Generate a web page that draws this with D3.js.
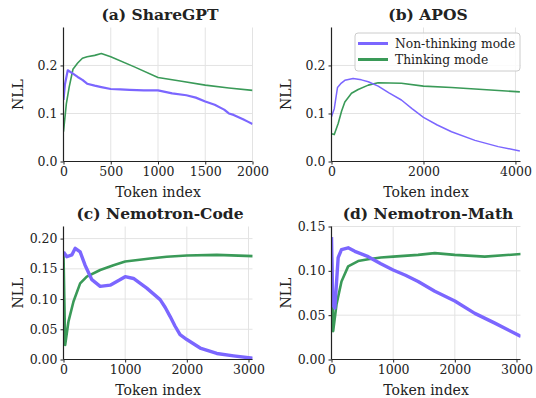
<!DOCTYPE html>
<html>
<head>
<meta charset="utf-8">
<script src="https://cdn.jsdelivr.net/npm/d3@7"></script>
<style>
  body { margin: 0; background: #fff; }
  text { font-family: "DejaVu Serif", serif; fill: #222; }
</style>
</head>
<body>
<svg width="536" height="398"></svg>
<script>
// values (token index / NLL)
const shareTok    = [0, 15, 45, 100, 150, 200, 250, 330, 400, 500, 600, 700, 850, 1000, 1150, 1300, 1400, 1500, 1600, 1700, 1750, 1800, 1900, 1950, 2000];
const shareNon    = [0.128, 0.16, 0.19, 0.183, 0.176, 0.17, 0.162, 0.158, 0.155, 0.151, 0.15, 0.149, 0.148, 0.148, 0.142, 0.138, 0.133, 0.125, 0.118, 0.108, 0.1, 0.097, 0.088, 0.083, 0.078];
const shareThTok  = [0, 30, 60, 100, 150, 200, 250, 330, 400, 500, 750, 1000, 1250, 1500, 1750, 2000];
const shareThink  = [0.062, 0.12, 0.155, 0.192, 0.205, 0.215, 0.218, 0.221, 0.225, 0.218, 0.197, 0.175, 0.167, 0.159, 0.153, 0.148];

const aposTok     = [0, 60, 130, 200, 290, 470, 650, 800, 1015, 1250, 1520, 1750, 2000, 2300, 2610, 3120, 3625, 4096];
const aposNon     = [0.093, 0.11, 0.154, 0.162, 0.169, 0.173, 0.17, 0.166, 0.157, 0.143, 0.128, 0.11, 0.092, 0.076, 0.062, 0.044, 0.031, 0.022];
const aposThTok   = [0, 60, 145, 220, 290, 435, 580, 800, 1015, 1520, 2000, 2610, 3120, 4096];
const aposThink   = [0.058, 0.056, 0.079, 0.105, 0.124, 0.142, 0.15, 0.159, 0.164, 0.163, 0.157, 0.154, 0.151, 0.145];

const codeTok     = [0, 54, 135, 190, 270, 350, 460, 595, 757, 900, 1000, 1135, 1350, 1567, 1650, 1730, 1810, 1890, 2000, 2216, 2486, 2757, 3072];
const codeNon     = [0.178, 0.17, 0.173, 0.184, 0.178, 0.156, 0.132, 0.121, 0.123, 0.131, 0.137, 0.134, 0.118, 0.099, 0.086, 0.071, 0.055, 0.041, 0.033, 0.019, 0.01, 0.006, 0.002];
const codeThTok   = [0, 27, 81, 162, 270, 378, 595, 811, 1000, 1405, 1675, 2000, 2486, 3072];
const codeThink   = [0.175, 0.024, 0.063, 0.096, 0.126, 0.137, 0.148, 0.156, 0.162, 0.167, 0.17, 0.172, 0.173, 0.171];

const mathTok     = [0, 20, 54, 108, 162, 270, 378, 595, 800, 1000, 1200, 1405, 1675, 2000, 2324, 2649, 3072];
const mathNon     = [0.138, 0.062, 0.058, 0.115, 0.124, 0.126, 0.122, 0.116, 0.108, 0.101, 0.095, 0.088, 0.077, 0.066, 0.052, 0.041, 0.026];
const mathThTok   = [0, 27, 81, 162, 270, 432, 595, 800, 1000, 1405, 1675, 2000, 2486, 3072];
const mathThink   = [0.13, 0.032, 0.062, 0.088, 0.105, 0.111, 0.113, 0.115, 0.116, 0.118, 0.12, 0.118, 0.116, 0.119];

const seriesNames = ['Non-thinking mode', 'Thinking mode'];
const colors = ['#7b66ff', '#3a9a58'];

const panels = [
  {title: '(a) ShareGPT', x0: 63.5, x1: 252.5, y0: 27.5, y1: 161.5, xMax: 2000, yMax: 0.279,
   xTicks: [0, 500, 1000, 1500, 2000], yTicks: [0, 0.1, 0.2], fmt: '.1f',
   non: [shareTok, shareNon], think: [shareThTok, shareThink], w: [2.2, 1.6]},
  {title: '(b) APOS', x0: 331.5, x1: 520.5, y0: 27.5, y1: 161.5, xMax: 4110, yMax: 0.279,
   xTicks: [0, 2000, 4000], yTicks: [0, 0.1, 0.2], fmt: '.1f',
   non: [aposTok, aposNon], think: [aposThTok, aposThink], w: [1.5, 1.6], legend: true},
  {title: '(c) Nemotron-Code', x0: 63.5, x1: 252.5, y0: 226.5, y1: 359.5, xMax: 3065, yMax: 0.22,
   xTicks: [0, 1000, 2000, 3000], yTicks: [0, 0.05, 0.1, 0.15, 0.2], fmt: '.2f',
   non: [codeTok, codeNon], think: [codeThTok, codeThink], w: [3.4, 2.6]},
  {title: '(d) Nemotron-Math', x0: 331.5, x1: 520.5, y0: 226.5, y1: 359.5, xMax: 3065, yMax: 0.15,
   xTicks: [0, 1000, 2000, 3000], yTicks: [0, 0.05, 0.1, 0.15], fmt: '.2f',
   non: [mathTok, mathNon], think: [mathThTok, mathThink], w: [3.4, 2.6]}
];

const svg = d3.select('svg');

panels.forEach((p, i) => {
  const x = d3.scaleLinear().domain([0, p.xMax]).range([p.x0, p.x1]);
  const y = d3.scaleLinear().domain([0, p.yMax]).range([p.y1, p.y0]);
  const g = svg.append('g');

  // grid
  g.append('g').selectAll('line').data(p.xTicks).join('line')
    .attr('x1', d => x(d)).attr('x2', d => x(d))
    .attr('y1', p.y0).attr('y2', p.y1)
    .attr('stroke', '#e3e3e3').attr('stroke-width', 1);
  g.append('g').selectAll('line').data(p.yTicks).join('line')
    .attr('x1', p.x0).attr('x2', p.x1)
    .attr('y1', d => y(d)).attr('y2', d => y(d))
    .attr('stroke', '#e3e3e3').attr('stroke-width', 1);

  const clipId = 'clip' + i;
  svg.append('clipPath').attr('id', clipId).append('rect')
    .attr('x', p.x0).attr('y', p.y0).attr('width', p.x1 - p.x0).attr('height', p.y1 - p.y0);

  const line = d3.line().x(d => x(d[0])).y(d => y(d[1]));
  [p.think, p.non].forEach((s, k) => {
    const idx = k === 0 ? 1 : 0;
    const pts = s[0].map((t, j) => [t, s[1][j]]);
    g.append('path').datum(pts)
      .attr('clip-path', `url(#${clipId})`)
      .attr('fill', 'none')
      .attr('stroke', colors[idx])
      .attr('stroke-width', p.w[idx])
      .attr('stroke-linejoin', 'round')
      .attr('d', line);
  });

  // axes
  const xAxis = g.append('g').attr('transform', `translate(0,${p.y1})`)
    .call(d3.axisBottom(x).tickValues(p.xTicks).tickFormat(d3.format('d')).tickSize(3).tickPadding(3));
  const yAxis = g.append('g').attr('transform', `translate(${p.x0},0)`)
    .call(d3.axisLeft(y).tickValues(p.yTicks).tickFormat(d3.format(p.fmt)).tickSize(3).tickPadding(3));
  [xAxis, yAxis].forEach(a => {
    a.select('.domain').attr('stroke', '#222').attr('stroke-width', 1.2);
    a.selectAll('.tick line').attr('stroke', '#222');
    a.selectAll('text').style('font-family', '"DejaVu Serif", serif').style('font-size', '12.5px').attr('fill', '#222');
  });
  yAxis.select('.domain').attr('d', `M0,${p.y1}V${p.y0}`);
  xAxis.select('.domain').attr('d', `M${p.x0},0H${p.x1}`);

  g.append('text').attr('x', (p.x0 + p.x1) / 2).attr('y', p.y1 + 35)
    .attr('text-anchor', 'middle').style('font-size', '14px').text('Token index');
  g.append('text')
    .attr('transform', `translate(${p.x0 - 41},${(p.y0 + p.y1) / 2}) rotate(-90)`)
    .attr('text-anchor', 'middle').style('font-size', '14px').text('NLL');
  g.append('text').attr('x', (p.x0 + p.x1) / 2 + 2).attr('y', p.y0 - 8)
    .attr('text-anchor', 'middle').style('font-size', '15.5px').style('font-weight', 'bold')
    .text(p.title);

  if (p.legend) {
    const lg = g.append('g').attr('transform', 'translate(355,33)');
    lg.append('rect').attr('width', 165).attr('height', 38).attr('rx', 3)
      .attr('fill', '#fff').attr('fill-opacity', 0.85).attr('stroke', '#ccc');
    seriesNames.forEach((n, j) => {
      lg.append('line').attr('x1', 3).attr('x2', 33).attr('y1', 10.5 + j * 16).attr('y2', 10.5 + j * 16)
        .attr('stroke', colors[j]).attr('stroke-width', 3);
      lg.append('text').attr('x', 40).attr('y', 15 + j * 16).style('font-size', '12.3px').text(n);
    });
  }
});
</script>
</body>
</html>
